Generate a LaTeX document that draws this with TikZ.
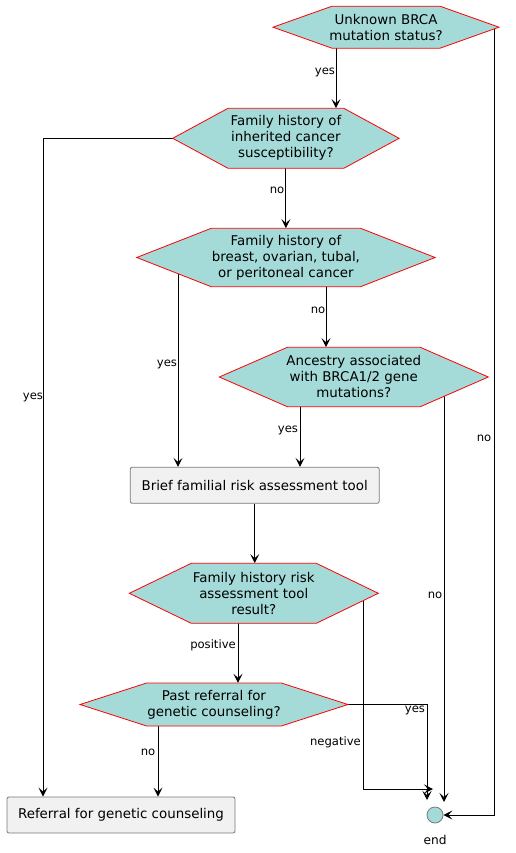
\documentclass[tikz,border=0pt]{standalone}
\usepackage{fontspec}
\setmainfont{DejaVu Sans}
\usepackage{tikz}
\usetikzlibrary{positioning,%
  arrows.meta,%
  backgrounds
}

\definecolor{hexfill}{RGB}{164,219,216}
\definecolor{boxfill}{RGB}{241,241,241}
\definecolor{boxline}{RGB}{120,120,120}

% name, x, y, halbe Breite, halbe Hoehe, Spitze, Text
\newcommand{\decision}[7]{%
  \filldraw[hexline] (#2-#4,#3) -- (#2-#4+#6,#3-#5) -- (#2+#4-#6,#3-#5) -- (#2+#4,#3)
    -- (#2+#4-#6,#3+#5) -- (#2-#4+#6,#3+#5) -- cycle;
  \node[decision, minimum width={2*#4pt}, minimum height={2*#5pt}] (#1) at (#2,#3) {#7};
}

\begin{document}
\begin{tikzpicture}
                    [
                        x=1pt, y=-1pt,
                        hexline/.style={draw=red, fill=hexfill, line width=.8pt, line join=miter},
                        decision/.style={rectangle, inner sep=0pt, align=center, font=\fontsize{13.4}{16}\selectfont},
                        action/.style={rectangle, draw=boxline, fill=boxfill, rounded corners=2pt, line width=.8pt,
                                       minimum height=36pt, inner sep=0pt, font=\fontsize{13.4}{16}\selectfont},
                        lbl/.style={inner sep=0pt, font=\fontsize{11.6}{13}\selectfont},
                        flow/.style={line width=1pt, -{Stealth[length=9pt, width=9pt, inset=4pt]}}
                    ]

                    % Platzhalter
                    \useasboundingbox (0,0) rectangle (515,853);

                    \decision{q1}{386}{27.2}{113}{21}{59}{Unknown BRCA\\mutation status?}
                    \decision{q2}{285.9}{138.3}{113.2}{30}{55.3}{Family history of\\inherited cancer\\susceptibility?}
                    \decision{q3}{285.9}{257.5}{149.2}{29.2}{74.5}{Family history of\\breast, ovarian, tubal,\\or peritoneal cancer}
                    \decision{q4}{353.8}{377}{134.5}{29.7}{68}{Ancestry associated\\with BRCA1/2 gene\\mutations?}
                    \node[action, minimum width=249pt] (box1) at (254.7,485.3) {Brief familial risk assessment tool};
                    \decision{q6}{253.8}{593.3}{124.5}{30}{62}{Family history risk\\assessment tool\\result?}
                    \decision{q7}{214}{704.5}{134}{21.5}{66.7}{Past referral for\\genetic counseling?}
                    \node[action, minimum width=228pt] (ref) at (121,815) {Referral for genetic counseling};
                    \node[circle, draw=boxline, fill=hexfill, line width=.8pt, minimum size=16pt, inner sep=0pt] (stop) at (435,815) {};
                    \node[lbl, font=\fontsize{12.2}{14}\selectfont] (endlbl) at (435,840) {end};

                    % Spalten
                    \coordinate (xA) at (336,0);
                    \coordinate (xB) at (494,0);
                    \coordinate (xC) at (43,0);
                    \coordinate (xD) at (178,0);
                    \coordinate (xE) at (326,0);
                    \coordinate (xF) at (300,0);
                    \coordinate (xG) at (444,0);
                    \coordinate (xH) at (238,0);
                    \coordinate (xI) at (363,0);
                    \coordinate (xJ) at (427,0);
                    \coordinate (xK) at (158,0);

                    \begin{scope}[on background layer]
                        \draw[flow] (q1 -| xA) -- (q2.north -| xA);
                        \draw[flow] (q1 -| xB) |- (stop.east);
                        \draw[flow] (q2.west) -| (ref.north -| xC);
                        \draw[flow] (q2) -- (q3.north);
                        \draw[flow] (q3 -| xD) -- (box1.north -| xD);
                        \draw[flow] (q3 -| xE) -- (q4.north -| xE);
                        \draw[flow] (q4 -| xF) -- (box1.north -| xF);
                        \draw[flow] (q4 -| xG) -- ([yshift=13pt]stop.center -| xG);
                        \draw[flow] (box1) -- (box1 |- q6.north);
                        \draw[flow] (q6 -| xH) -- (q7.north -| xH);
                        \draw[flow] (q6 -| xI) |- ([xshift=-2pt,yshift=26pt]stop.center);
                        \draw[flow] (q7.east) -| ([yshift=15pt]stop.center -| xJ);
                        \draw[flow] (q7 -| xK) -- (ref.north -| xK);
                    \end{scope}

                    \node[lbl] (l1) at (325,72) {yes};
                    \node[lbl] (l2) at (484,438) {no};
                    \node[lbl] (l3) at (33,397) {yes};
                    \node[lbl] (l4) at (277,190) {no};
                    \node[lbl] (l5) at (167,364) {yes};
                    \node[lbl] (l6) at (318,310) {no};
                    \node[lbl] (l7) at (288,430) {yes};
                    \node[lbl] (l8) at (435,595) {no};
                    \node[lbl] (l9) at (213,645) {positive};
                    \node[lbl] (l10) at (335.5,742) {negative};
                    \node[lbl] (l11) at (415,710) {yes};
                    \node[lbl] (l12) at (148,752) {no};
                \end{tikzpicture}
\end{document}
